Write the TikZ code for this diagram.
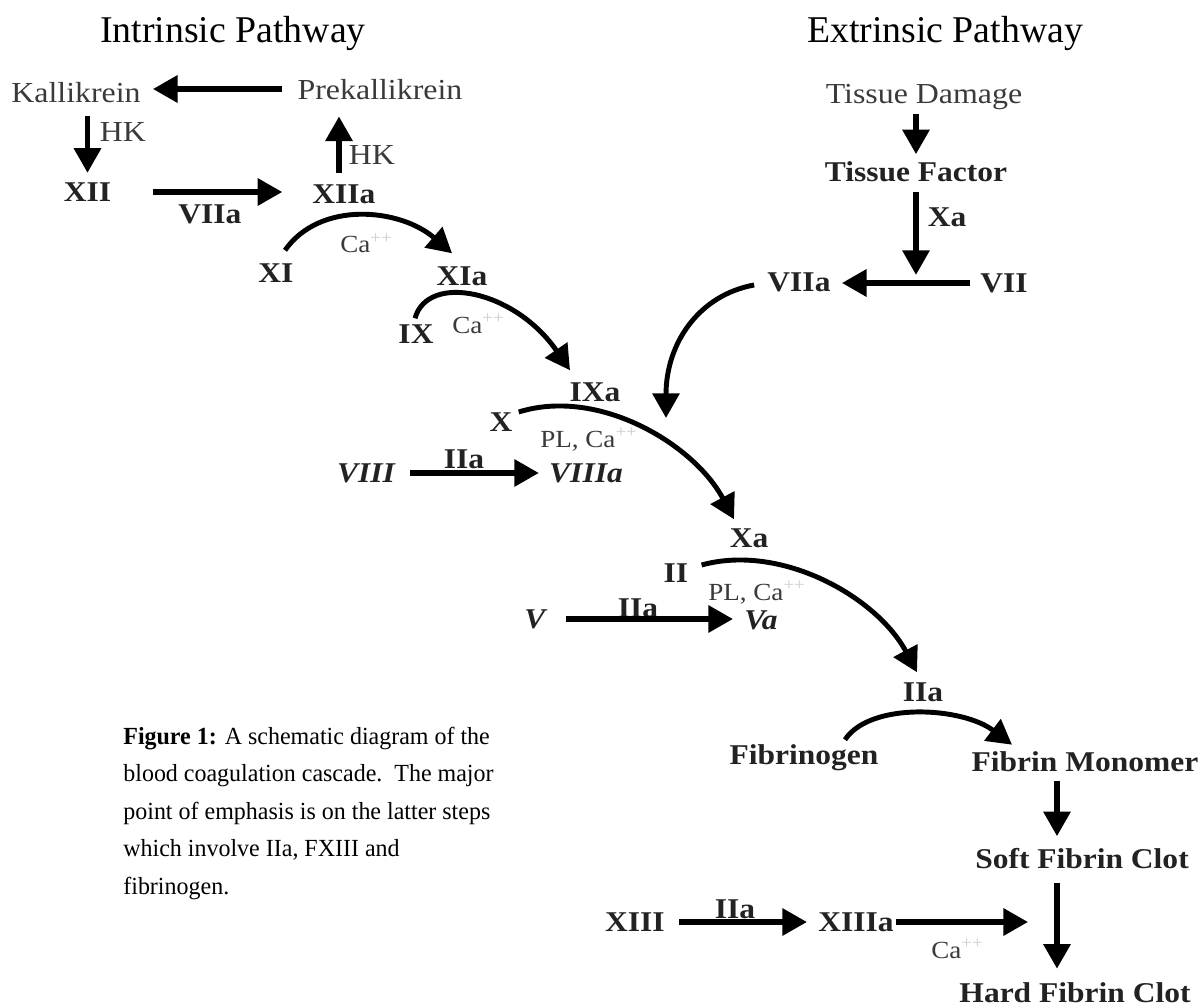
\documentclass[tikz,border=0pt]{standalone}
\usepackage{fontspec}
\setmainfont{Liberation Serif}
\newfontfamily\lblfont[FakeStretch=1.1]{Liberation Serif}
\newfontfamily\captfont[FakeStretch=0.975]{Liberation Serif}
\usepackage{xcolor}
\usetikzlibrary{arrows.meta,calc}
\definecolor{ctext}{HTML}{222222}
\definecolor{clight}{HTML}{3A3A3A}
\definecolor{cfaint}{HTML}{CCCCCC}
\newcommand{\caion}{Ca\textsuperscript{\textcolor{cfaint}{++}}}

\begin{document}
\begin{tikzpicture}[
    x=0.02cm, y=-0.02cm,
    lbl/.style={inner sep=0pt, text depth=0pt},
    ttl/.style={lbl, font=\fontsize{21.5}{26}\selectfont, text=black},
    pre/.style={lbl, font=\lblfont\fontsize{16.5}{19}\selectfont, text=clight},
    fac/.style={lbl, font=\lblfont\fontsize{16.3}{19}\selectfont\bfseries, text=ctext},
    ifac/.style={lbl, font=\lblfont\fontsize{16.3}{19}\selectfont\bfseries\itshape, text=ctext},
    ion/.style={inner sep=0pt, anchor=base west, font=\lblfont\fontsize{14}{17}\selectfont, text=clight},
    capt/.style={inner sep=0pt, anchor=north west, align=left, font=\captfont\fontsize{14}{21.3}\selectfont},
    arr/.style={-{Triangle[length=14pt,width=15pt]}, line width=3pt},
    carr/.style={arr, line width=2.8pt}
]
\useasboundingbox (0,0) rectangle (1201,1007);

% titles
\node[ttl] (intr) at (233,29.5) {Intrinsic Pathway};
\node[ttl] (extr) at (945,29.5) {Extrinsic Pathway};

% intrinsic pathway
\node[pre] (kal) at (76,92.5) {Kallikrein};
\node[pre] (prek) at (380,89) {Prekallikrein};
\node[pre] (hkl) at (123,132) {HK};
\node[pre] (hkr) at (372,155) {HK};
\node[fac] (fxii) at (87.5,192) {XII};
\node[fac] (fxiia) at (344,194) {XIIa};
\node[fac] (lblxii) at (210,214) {VIIa};
\node[fac] (fxi) at (276,273) {XI};
\node[fac] (fxia) at (462,276) {XIa};
\node[ion] (ca1) at (340,253) {\caion};
\node[fac] (fix) at (416,334) {IX};
\node[ion] (ca2) at (452,333) {\caion};
\node[fac] (fixa) at (595,392) {IXa};

% common pathway
\node[fac] (fx) at (501,422) {X};
\node[ion] (pl1) at (540,447) {PL, \caion};
\node[ifac] (fviii) at (366,473) {VIII};
\node[ifac] (fviiia) at (586,473) {VIIIa};
\node[fac] (lblviii) at (464,459) {IIa};
\node[fac] (fxa) at (749,538) {Xa};
\node[fac] (fii) at (676,573) {II};
\node[ion] (pl2) at (708,600) {PL, \caion};
\node[ifac] (fv) at (535,619) {V};
\node[ifac] (fva) at (761,620) {Va};
\node[fac] (lblv) at (638,608) {IIa};
\node[fac] (fiia) at (923,692) {IIa};
\node[fac] (fbg) at (804,755) {Fibrinogen};
\node[fac] (fm) at (1085,762) {Fibrin Monomer};
\node[fac] (sfc) at (1082,858) {Soft Fibrin Clot};
\node[fac] (hfc) at (1075,993) {Hard Fibrin Clot};
\node[fac] (fxiii) at (635,922) {XIII};
\node[fac] (fxiiia) at (856,922) {XIIIa};
\node[fac] (lblxiii) at (735,909) {IIa};
\node[ion] (ca3) at (931,958) {\caion};

% extrinsic pathway
\node[pre] (td) at (924,94) {Tissue Damage};
\node[fac] (tf) at (916,172) {Tissue Factor};
\node[fac] (lbltf) at (947,217) {Xa};
\node[fac] (fviia) at (799,282) {VIIa};
\node[fac] (fvii) at (1004,283) {VII};

\node[capt] (caption) at (123,726.7) {\textbf{Figure 1:} A schematic diagram of the\\
  blood coagulation cascade.\ \ The major\\
  point of emphasis is on the latter steps\\
  which involve IIa, FXIII and\\
  fibrinogen.};

\coordinate (col) at (1057,0);
\coordinate (hit) at (666,418);

% straight arrows
\draw[arr, shorten <=8.5pt, shorten >=6.8pt] (prek.west) -- (prek.west -| kal.east);
\draw[arr, shorten <=7.4pt, shorten >=5.4pt] (fxii.north |- kal.south) -- (fxii.north);
\draw[arr, shorten <=23.9pt, shorten >=17pt] (fxii.east) -- (fxii.east -| fxiia.west);
\draw[arr, shorten <=6.5pt, shorten >=9.7pt] ($(fxiia.north)+(-5,0)$) -- ($(fxiia.north |- prek.south)+(-5,0)$);
\draw[arr, shorten <=5.7pt, shorten >=4.3pt] (tf.north |- td.south) -- (tf.north);
\draw[arr, shorten <=5.4pt, shorten >=4.6pt] (tf.south) -- (tf.south |- fvii.west);
\draw[arr, shorten <=5.7pt, shorten >=6.3pt] (fvii.west) -- (fvii.west -| fviia.east);
\draw[arr, shorten <=8.5pt, shorten >=5.7pt] (fviii.east) -- (fviiia.west);
\draw[arr, shorten <=11.4pt, shorten >=6.3pt] (fv.east) -- (fv.east -| fva.west);
\draw[arr, shorten <=8pt, shorten >=6.3pt] (fxiii.east) -- (fxiiia.west);
\draw[arr, shorten <=1.1pt, shorten >=16.5pt] (fxiiia.east) -- (fxiiia.east -| col);
\draw[arr, shorten <=4.8pt, shorten >=6.5pt] (fm.south -| col) -- (sfc.north -| col);
\draw[arr, shorten <=8.2pt, shorten >=8pt] (sfc.south -| col) -- (hfc.north -| col);

% curved arrows
\draw[carr] ($(fxi.north)+(9,-13)$) .. controls +(35,-50) and +(-52,-45) .. ($(fxia.north)+(-10,-13)$);
\draw[carr] ($(fix.north)+(-1,-6)$) .. controls +(13,-46) and +(-55,-80) .. ($(fixa.north)+(-25,-12)$);
\draw[carr] ($(fx.east)+(6,-10)$) .. controls +(80,-25) and +(-40,-75) .. ($(fxa.north)+(-15,-9)$);
\draw[carr] ($(fviia.west)+(-13,3)$) .. controls +(-55,10) and +(0,-75) .. (hit);
\draw[carr] ($(fii.east)+(13,-8)$) .. controls +(80,-22) and +(-40,-75) .. ($(fiia.north)+(-6,-10)$);
\draw[carr] ($(fbg.north)+(41,-5)$) .. controls +(25,-38) and +(-50,-38) .. ($(fm.north)+(-73,-7)$);
\end{tikzpicture}
\end{document}
